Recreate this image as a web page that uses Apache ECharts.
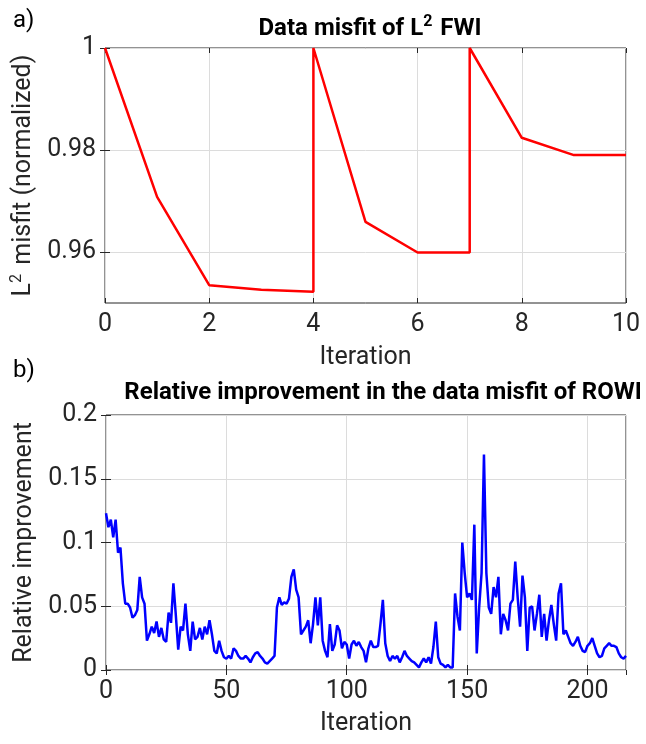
<!DOCTYPE html>
<html>
<head>
<meta charset="utf-8">
<script src="https://cdn.jsdelivr.net/npm/echarts@6/dist/echarts.min.js"></script>
<style>
  html, body { margin: 0; padding: 0; background: #fff; }
  #chart { width: 646px; height: 744px; }
</style>
</head>
<body>
<div id="chart"></div>
<script>
// a) L2 FWI misfit, restarts at iterations 4 and 7
const fwiIter = [0, 1, 2, 3, 4, 4, 5, 6, 7, 7, 8, 9, 10];
const fwiMisfit = [1, 0.9708, 0.9535, 0.9526, 0.9522, 1, 0.9659, 0.9599, 0.9599, 1, 0.9824, 0.979, 0.979];
const fwiYTicks = [0.96, 0.98, 1];

// b) relative improvement of ROWI, one value per iteration (0..216)
const rowiImprovement = [
  0.123, 0.112, 0.118, 0.104, 0.118, 0.092, 0.096, 0.068, 0.052, 0.052,
  0.049, 0.041, 0.043, 0.047, 0.073, 0.057, 0.052, 0.023, 0.028, 0.034,
  0.029, 0.038, 0.026, 0.033, 0.024, 0.022, 0.045, 0.037, 0.068, 0.043,
  0.016, 0.034, 0.031, 0.052, 0.028, 0.015, 0.038, 0.024, 0.026, 0.033,
  0.024, 0.034, 0.028, 0.039, 0.028, 0.015, 0.013, 0.023, 0.015, 0.010,
  0.009, 0.011, 0.009, 0.017, 0.015, 0.011, 0.009, 0.009, 0.011, 0.009,
  0.006, 0.010, 0.013, 0.014, 0.011, 0.009, 0.006, 0.005, 0.007, 0.009,
  0.011, 0.049, 0.057, 0.051, 0.053, 0.052, 0.056, 0.073, 0.079, 0.063,
  0.057, 0.028, 0.031, 0.034, 0.039, 0.021, 0.036, 0.057, 0.035, 0.057,
  0.023, 0.015, 0.010, 0.036, 0.015, 0.020, 0.035, 0.031, 0.017, 0.022,
  0.020, 0.009, 0.020, 0.023, 0.019, 0.022, 0.018, 0.015, 0.006, 0.017,
  0.023, 0.018, 0.018, 0.019, 0.036, 0.055, 0.021, 0.011, 0.007, 0.011,
  0.009, 0.011, 0.006, 0.010, 0.015, 0.011, 0.009, 0.007, 0.006, 0.004,
  0.002, 0.006, 0.009, 0.006, 0.010, 0.005, 0.018, 0.038, 0.010, 0.005,
  0.004, 0.002, 0.004, 0.002, 0.002, 0.060, 0.042, 0.031, 0.100, 0.076,
  0.057, 0.060, 0.055, 0.114, 0.013, 0.049, 0.076, 0.169, 0.076, 0.049,
  0.044, 0.065, 0.057, 0.073, 0.028, 0.044, 0.039, 0.031, 0.052, 0.055,
  0.085, 0.057, 0.034, 0.074, 0.057, 0.015, 0.049, 0.050, 0.031, 0.044,
  0.059, 0.026, 0.044, 0.023, 0.039, 0.051, 0.036, 0.023, 0.060, 0.068,
  0.028, 0.031, 0.026, 0.021, 0.019, 0.022, 0.026, 0.019, 0.015, 0.014,
  0.019, 0.021, 0.025, 0.019, 0.013, 0.010, 0.011, 0.017, 0.019, 0.021,
  0.019, 0.019, 0.018, 0.013, 0.010, 0.009, 0.011
];

const FONT = 'Roboto';
const INK = '#262626';

function xAxisOf(grid, pos, opts) {
  return Object.assign({
    type: 'value', gridIndex: grid, position: pos,
    axisLine: { show: false },
    axisTick: { show: true, inside: true, length: 5, lineStyle: { color: INK } },
    axisLabel: { show: pos === 'bottom', color: INK, fontFamily: FONT, fontSize: 25, margin: 9 },
    splitLine: { show: pos === 'bottom', lineStyle: { color: '#dcdcdc', width: 1 } }
  }, opts);
}
function yAxisOf(grid, pos, opts) {
  return Object.assign({
    type: 'value', gridIndex: grid, position: pos,
    axisLine: { show: false },
    axisTick: { show: true, inside: true, length: 5, lineStyle: { color: INK } },
    axisLabel: { show: pos === 'left', color: INK, fontFamily: FONT, fontSize: 25, margin: 9 },
    splitLine: { show: pos === 'left', lineStyle: { color: '#dcdcdc', width: 1 } }
  }, opts);
}

const nameStyle = { color: INK, fontFamily: FONT, fontSize: 25,
  rich: { sup: { fontSize: 16, verticalAlign: 'top', padding: [0, 3, 14, 0], color: INK, fontFamily: FONT } } };

const chart = echarts.init(document.getElementById('chart'));
chart.setOption({
  animation: false,
  title: [
    { text: 'Data misfit of L{sup|2} FWI', left: 365, top: 9, textAlign: 'center',
      textStyle: { fontFamily: FONT, fontSize: 24, fontWeight: 'bold', color: '#000',
        rich: { sup: { fontSize: 16, fontWeight: 'bold', padding: [0, 2, 14, 0], color: '#000', fontFamily: FONT } } } },
    { text: 'Relative improvement in the data misfit of ROWI', left: 378, top: 376, textAlign: 'center',
      textStyle: { fontFamily: FONT, fontSize: 24, fontWeight: 'bold', color: '#000' } }
  ],
  graphic: [
    { type: 'text', left: 13, top: 9, style: { text: 'a)', font: '24px Roboto', fill: '#000' } },
    { type: 'text', left: 13, top: 359, style: { text: 'b)', font: '24px Roboto', fill: '#000' } }
  ],
  grid: [
    { left: 105, right: 20, top: 48, height: 255, show: true, borderColor: INK, borderWidth: 1 },
    { left: 106, right: 20, top: 415, height: 255, show: true, borderColor: INK, borderWidth: 1 }
  ],
  xAxis: [
    xAxisOf(0, 'bottom', { min: 0, max: 10, interval: 2, name: 'Iteration', nameLocation: 'middle',
      nameGap: 42, nameTextStyle: nameStyle }),
    xAxisOf(0, 'top', { min: 0, max: 10, interval: 2 }),
    xAxisOf(1, 'bottom', { min: 0, max: 216, interval: 50, name: 'Iteration', nameLocation: 'middle',
      nameGap: 41, nameTextStyle: nameStyle }),
    xAxisOf(1, 'top', { min: 0, max: 216, interval: 50 })
  ],
  yAxis: [
    yAxisOf(0, 'left', { min: 0.95, max: 1, interval: 0.01, name: 'L{sup|2} misfit (normalized)',
      nameLocation: 'middle', nameGap: 64, nameTextStyle: nameStyle }),
    yAxisOf(0, 'right', { min: 0.95, max: 1, interval: 0.01 }),
    yAxisOf(1, 'left', { min: 0, max: 0.2, interval: 0.05, name: 'Relative improvement',
      nameLocation: 'middle', nameGap: 69, nameTextStyle: nameStyle }),
    yAxisOf(1, 'right', { min: 0, max: 0.2, interval: 0.05 })
  ],
  series: [
    { type: 'line', xAxisIndex: 0, yAxisIndex: 0, showSymbol: false,
      lineStyle: { color: '#ff0000', width: 2.5 },
      data: fwiIter.map((x, i) => [x, fwiMisfit[i]]) },
    { type: 'line', xAxisIndex: 2, yAxisIndex: 2, showSymbol: false,
      lineStyle: { color: '#0000ff', width: 2.5 },
      data: rowiImprovement.map((v, i) => [i, v]) }
  ]
});

// only 0.96 / 0.98 / 1 carry ticks, labels and grid lines on the top plot
chart.setOption({
  yAxis: [
    { axisLabel: { customValues: fwiYTicks }, axisTick: { customValues: fwiYTicks } },
    { axisTick: { customValues: fwiYTicks } },
    {},
    {}
  ],
  xAxis: [{}, {}, { axisLabel: { showMaxLabel: false } }, {}]
});
</script>
</body>
</html>
